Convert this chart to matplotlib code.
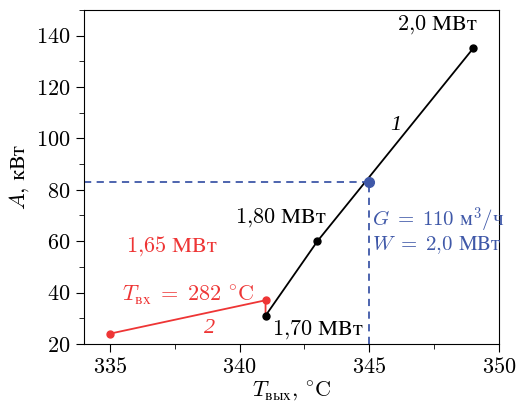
import matplotlib
matplotlib.use('Agg')
import matplotlib.pyplot as plt
from matplotlib.ticker import MultipleLocator

plt.rcParams['font.family'] = ['cmr10', 'Liberation Serif']
plt.rcParams['mathtext.fontset'] = 'cm'
plt.rcParams['axes.formatter.use_mathtext'] = True
plt.rcParams['font.size'] = 16

# data
t_black = [341, 343, 349]
a_black = [31, 60, 135]
t_red = [335, 341, 341]
a_red = [24, 37, 31]
t_op, a_op = 345, 83

red = '#ee3535'
blue = '#3f58a8'

fig, ax = plt.subplots(figsize=(5.21, 4.09), dpi=100)
fig.subplots_adjust(left=0.161, right=0.958, top=0.976, bottom=0.159)

ax.set_xlim(334, 350)
ax.set_ylim(20, 150)

ax.plot([334, t_op], [a_op, a_op], '--', color=blue, lw=1.3, dashes=(4, 3))
ax.plot([t_op, t_op], [20, a_op], '--', color=blue, lw=1.3, dashes=(4, 3))

ax.plot(t_red, a_red, '-', color=red, lw=1.3)
ax.plot(t_red[:2], a_red[:2], 'o', color=red, ms=5)
ax.plot(t_black, a_black, '-', color='black', lw=1.3)
ax.plot(t_black, a_black, 'o', color='black', ms=5)
ax.plot([t_op], [a_op], 'o', color=blue, ms=7)

ax.text(347.6, 140, r'$\mathrm{2{,}0\ МВт}$', ha='center', va='bottom')
ax.text(346.0, 105, '1', ha='center', va='center',
        family='Liberation Serif', style='italic')
ax.text(341.6, 69, r'$\mathrm{1{,}80\ МВт}$', ha='center', va='center')
ax.text(337.4, 58, r'$\mathrm{1{,}65\ МВт}$', ha='center', va='center', color=red)
ax.text(338.0, 39, r'$T_{\mathrm{вх}}\;=\;282\ ^{\circ}\mathrm{C}$',
        ha='center', va='center', color=red)
ax.text(338.85, 26, '2', ha='center', va='center', color=red,
        family='Liberation Serif', style='italic')
ax.text(343.0, 25.5, r'$\mathrm{1{,}70\ МВт}$', ha='center', va='center')
ax.text(345.1, 68, r'$G\;=\;110\ \mathrm{м}^3/\mathrm{ч}$',
        ha='left', va='center', color=blue, fontsize=15)
ax.text(345.1, 58.5, r'$W\;=\;2{,}0\ \mathrm{МВт}$',
        ha='left', va='center', color=blue, fontsize=15)

ax.xaxis.set_major_locator(MultipleLocator(5))
ax.xaxis.set_minor_locator(MultipleLocator(2.5))
ax.yaxis.set_major_locator(MultipleLocator(20))
ax.yaxis.set_minor_locator(MultipleLocator(10))
ax.tick_params(which='both', direction='out', top=False, right=False)
ax.tick_params(which='major', length=6)
ax.tick_params(which='minor', length=3.5)

ax.set_xlabel(r'$T_{\mathrm{вых}}{,}\ ^{\circ}\mathrm{C}$', labelpad=2)
ax.set_ylabel(r'$A{,}\ \mathrm{кВт}$', labelpad=4)

fig.savefig('out.png', dpi=100)
